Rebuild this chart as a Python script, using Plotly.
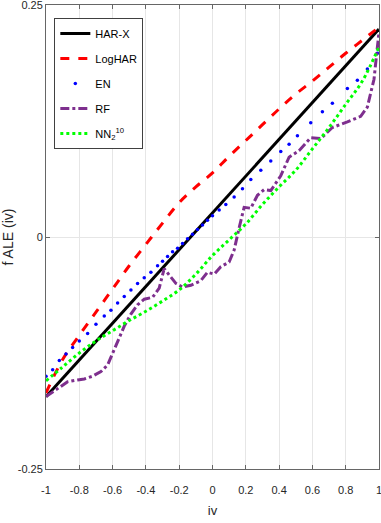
import plotly.graph_objects as go

# grid for the smooth curves
x_grid = [-1.0, -0.9, -0.8, -0.7, -0.6, -0.5, -0.4, -0.3, -0.2, -0.1, 0.0,
          0.1, 0.2, 0.3, 0.4, 0.5, 0.6, 0.7, 0.8, 0.9, 1.0]

harx_x = [-1.0, 1.0]
harx_y = [-0.172, 0.224]

loghar_y = [-0.168, -0.132, -0.106, -0.081, -0.056, -0.031, -0.008, 0.015, 0.037, 0.054, 0.069,
            0.087, 0.104, 0.121, 0.138, 0.154, 0.168, 0.183, 0.198, 0.212, 0.226]

en_x = [-1.0, -0.96, -0.92, -0.88, -0.84, -0.80, -0.75, -0.70, -0.65, -0.61, -0.57, -0.53,
        -0.49, -0.45, -0.41, -0.37, -0.33, -0.30, -0.27, -0.24, -0.21, -0.18, -0.15, -0.12,
        -0.09, -0.06, -0.03, 0.0, 0.04, 0.08, 0.13, 0.18, 0.23, 0.29, 0.35, 0.41, 0.46, 0.51,
        0.59, 0.66, 0.72, 0.81, 0.87, 0.93, 0.99]
en_y = [-0.150, -0.143, -0.133, -0.126, -0.119, -0.112, -0.104, -0.094, -0.085, -0.079, -0.071,
        -0.064, -0.057, -0.050, -0.044, -0.038, -0.031, -0.026, -0.021, -0.016, -0.012, -0.007,
        -0.002, 0.003, 0.008, 0.013, 0.018, 0.023, 0.029, 0.035, 0.043, 0.052, 0.062, 0.072,
        0.082, 0.092, 0.100, 0.109, 0.123, 0.135, 0.144, 0.160, 0.169, 0.181, 0.198]

rf_x = [-1.0, -0.93, -0.87, -0.81, -0.77, -0.72, -0.67, -0.63, -0.60, -0.56, -0.53, -0.49,
        -0.45, -0.41, -0.36, -0.32, -0.29, -0.26, -0.22, -0.18, -0.13, -0.07, -0.03, 0.01,
        0.05, 0.10, 0.13, 0.16, 0.19, 0.23, 0.27, 0.31, 0.35, 0.41, 0.46, 0.52, 0.59, 0.65,
        0.72, 0.81, 0.89, 0.93, 0.97, 1.0]
rf_y = [-0.172, -0.163, -0.156, -0.154, -0.153, -0.150, -0.145, -0.138, -0.125, -0.107, -0.096,
        -0.083, -0.073, -0.067, -0.065, -0.055, -0.034, -0.041, -0.050, -0.054, -0.052, -0.047,
        -0.038, -0.040, -0.032, -0.027, -0.014, 0.010, 0.032, 0.031, 0.045, 0.051, 0.050, 0.066,
        0.086, 0.093, 0.107, 0.106, 0.118, 0.124, 0.130, 0.140, 0.170, 0.221]

nn_y = [-0.155, -0.140, -0.125, -0.112, -0.101, -0.090, -0.080, -0.069, -0.057, -0.040, -0.020,
        -0.003, 0.014, 0.035, 0.054, 0.072, 0.095, 0.118, 0.143, 0.168, 0.205]

x_ticks = [-1, -0.8, -0.6, -0.4, -0.2, 0, 0.2, 0.4, 0.6, 0.8, 1]
x_labels = ["-1", "-0.8", "-0.6", "-0.4", "-0.2", "0", "0.2", "0.4", "0.6", "0.8", "1"]
y_ticks = [-0.25, 0, 0.25]
y_labels = ["-0.25", "0", "0.25"]

font = "Liberation Sans, Arial"

fig = go.Figure()
fig.add_trace(go.Scatter(x=harx_x, y=harx_y, mode="lines", name="HAR-X",
                         line=dict(color="black", width=3)))
fig.add_trace(go.Scatter(x=x_grid, y=loghar_y, mode="lines", name="LogHAR",
                         line=dict(color="#ff0000", width=3, dash="dash", shape="spline")))
fig.add_trace(go.Scatter(x=en_x, y=en_y, mode="markers", name="EN",
                         marker=dict(color="#0000ff", size=3.5)))
fig.add_trace(go.Scatter(x=rf_x, y=rf_y, mode="lines", name="RF",
                         line=dict(color="#7e2f8e", width=3, dash="dashdot")))
fig.add_trace(go.Scatter(x=x_grid, y=nn_y, mode="lines", name="NN<sub>2</sub><sup>10</sup>",
                         line=dict(color="#00ff00", width=3, dash="dot", shape="spline")))

fig.update_layout(
    width=381, height=523,
    margin=dict(l=46, r=2, t=5, b=54),
    paper_bgcolor="white", plot_bgcolor="white",
    font=dict(family=font, size=11, color="#262626"),
    legend=dict(x=0.025, y=0.972, xanchor="left", yanchor="top",
                bordercolor="#404040", borderwidth=1, bgcolor="white", itemwidth=30,
                font=dict(size=11, color="black"), tracegroupgap=6),
)
fig.update_xaxes(range=[-1, 1], tickvals=x_ticks, ticktext=x_labels,
                 showgrid=True, gridcolor="#e6e6e6", gridwidth=1, zeroline=False,
                 showline=True, linecolor="#666666", linewidth=1, mirror="ticks",
                 ticks="inside", ticklen=4, tickcolor="#666666", automargin=False,
                 ticklabeloverflow="allow", ticklabelstandoff=11,
                 title=dict(text="iv", standoff=10, font=dict(size=13)))
fig.update_yaxes(range=[-0.25, 0.25], tickvals=y_ticks, ticktext=y_labels,
                 showgrid=True, gridcolor="#e6e6e6", gridwidth=1, zeroline=False,
                 showline=True, linecolor="#666666", linewidth=1, mirror="ticks",
                 ticks="inside", ticklen=4, tickcolor="#666666", automargin=False,
                 ticklabeloverflow="allow",
                 title=dict(text="f ALE (iv)", standoff=6, font=dict(size=14)))

for i, tr in enumerate(fig.data):
    tr.legendgroup = str(i)

fig.write_html("out.html", config={"displayModeBar": False},
               post_script="document.body.style.margin='0';")
